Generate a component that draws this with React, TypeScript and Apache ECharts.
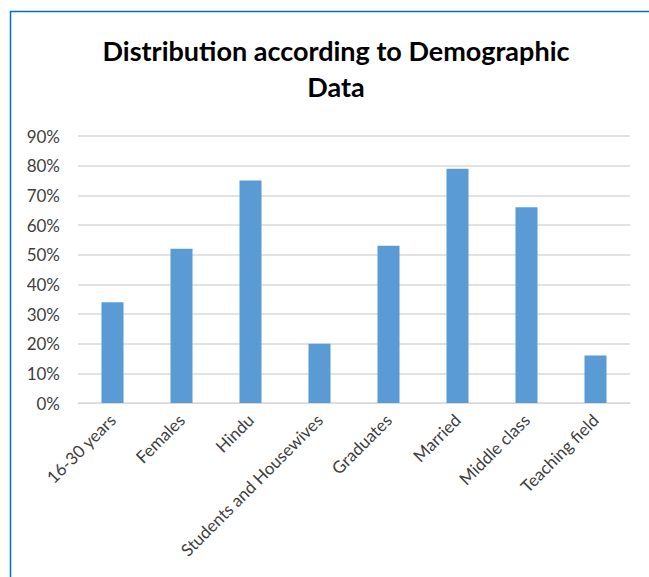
import React, { useEffect, useRef } from "react";
import * as echarts from "echarts";

const categories = [
  "16-30 years",
  "Females",
  "Hindu",
  "Students and Housewives",
  "Graduates",
  "Married",
  "Middle class",
  "Teaching field",
];
const values = [34, 52, 75, 20, 53, 79, 66, 16];
const titleText = "Distribution according to Demographic\nData";

export default function App() {
  const ref = useRef<HTMLDivElement>(null);
  useEffect(() => {
    document.body.style.margin = "0";
    const chart = echarts.init(ref.current!, null, { renderer: "svg" });
    chart.setOption({
      animation: false,
      backgroundColor: "#ffffff",
      textStyle: { fontFamily: "Lato" },
      graphic: [
        {
          type: "line",
          shape: { x1: 10, y1: 11.5, x2: 649, y2: 11.5 },
          style: { stroke: "#0070C0", lineWidth: 1.5 },
        },
        {
          type: "line",
          shape: { x1: 10.5, y1: 11, x2: 10.5, y2: 577 },
          style: { stroke: "#0070C0", lineWidth: 1.5 },
        },
        {
          type: "text",
          x: 336,
          y: 32,
          style: {
            text: titleText,
            fontFamily: "Lato",
            fontSize: 27,
            fontWeight: "bold",
            fill: "#000000",
            lineHeight: 36,
            align: "center",
            verticalAlign: "top",
          },
        },
      ],
      grid: { left: 78, right: 19, top: 136, bottom: 174, containLabel: false },
      xAxis: {
        type: "category",
        data: categories,
        axisLine: { lineStyle: { color: "#D9D9D9", width: 1 } },
        axisTick: { show: false },
        axisLabel: {
          rotate: 45,
          interval: 0,
          color: "#404040",
          fontSize: 17,
          fontFamily: "Lato",
          margin: 14,
        },
      },
      yAxis: {
        type: "value",
        min: 0,
        max: 90,
        interval: 10,
        axisLine: { show: false },
        axisTick: { show: false },
        splitLine: { lineStyle: { color: "#D9D9D9", width: 1.5 } },
        axisLabel: {
          formatter: "{value}%",
          color: "#404040",
          fontSize: 17,
          fontFamily: "Lato",
          margin: 18,
        },
      },
      series: [
        {
          type: "bar",
          data: values,
          barWidth: 22,
          itemStyle: { color: "#5B9BD5" },
        },
      ],
    });
    return () => chart.dispose();
  }, []);
  return <div ref={ref} style={{ width: 649, height: 577 }} />;
}
